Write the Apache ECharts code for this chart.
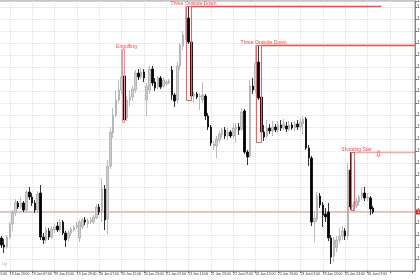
<!DOCTYPE html>
<html><head><meta charset="utf-8">
<script src="https://cdn.jsdelivr.net/npm/echarts@6/dist/echarts.min.js"></script>
<style>html,body{margin:0;padding:0;background:#fff}#c{width:420px;height:280px}</style>
</head><body><div id="c"></div>
<script>
// time labels, one every 8 hourly bars (category 0, 8, 16, ...)
const timeLabels = ["16 Jan 15:00","18 Jan 23:00","19 Jan 07:00","19 Jan 15:00","19 Jan 23:00","20 Jan 07:00","20 Jan 15:00","20 Jan 23:00","21 Jan 07:00","21 Jan 15:00","21 Jan 23:00","22 Jan 07:00","22 Jan 15:00","22 Jan 23:00","23 Jan 07:00","23 Jan 15:00","25 Jan 23:00","26 Jan 07:00"];
const totalBars = 154;   // slots on the time axis
const firstBar = 5;      // slot of the first drawn candle

const open = [1.1325,1.1318,1.1316,1.1326,1.1339,1.1350,1.1360,1.1356,1.1360,1.1353,1.1371,1.1366,1.1360,
1.1353,1.1370,1.1326,1.1323,1.1332,1.1326,1.1333,1.1337,1.1333,1.1341,
1.1330,1.1325,1.1330,1.1333,1.1336,1.1325,1.1336,1.1343,1.1339,1.1341,
1.1341,1.1345,1.1356,1.1351,1.1374,1.1344,1.1397,1.1430,1.1448,1.1463,
1.1473,1.1487,1.1445,1.1463,1.1466,1.1473,1.1490,1.1486,1.1491,1.1463,
1.1473,1.1494,1.1481,1.1476,1.1485,1.1477,1.1479,1.1480,1.1493,1.1468,
1.1463,1.1497,1.1517,1.1527,1.1545,1.1521,1.1467,1.1469,1.1466,1.1463,
1.1467,1.1447,1.1436,1.1417,1.1417,1.1423,1.1428,1.1433,1.1427,1.1431,
1.1427,1.1434,1.1436,1.1434,1.1452,1.1411,1.1407,1.1477,1.1473,1.1501,
1.1466,1.1431,1.1427,1.1435,1.1432,1.1436,1.1433,1.1438,1.1435,1.1437,
1.1434,1.1438,1.1435,1.1439,1.1436,1.1439,1.1444,1.1415,1.1405,1.1341,
1.1344,1.1367,1.1358,1.1349,1.1351,1.1325,1.1307,1.1315,1.1323,1.1327,
1.1332,1.1327,1.1393,1.1356,1.1357,1.1361,1.1366,1.1370,1.1365,1.1365,1.1355];
const close = [1.1318,1.1316,1.1326,1.1339,1.1350,1.1361,1.1356,1.1360,1.1353,1.1371,1.1366,1.1360,1.1353,
1.1369,1.1326,1.1323,1.1333,1.1326,1.1334,1.1336,1.1333,1.1341,1.1330,
1.1323,1.1330,1.1334,1.1336,1.1338,1.1341,1.1343,1.1341,1.1342,1.1343,
1.1346,1.1356,1.1351,1.1374,1.1343,1.1397,1.1431,1.1448,1.1463,1.1473,
1.1486,1.1443,1.1463,1.1466,1.1474,1.1490,1.1486,1.1491,1.1485,1.1477,
1.1494,1.1480,1.1475,1.1485,1.1476,1.1483,1.1481,1.1482,1.1468,1.1462,
1.1497,1.1518,1.1528,1.1544,1.1521,1.1467,1.1469,1.1466,1.1467,1.1468,
1.1447,1.1436,1.1420,1.1419,1.1424,1.1429,1.1433,1.1427,1.1431,1.1427,
1.1435,1.1436,1.1433,1.1451,1.1411,1.1406,1.1477,1.1473,1.1500,1.1465,
1.1431,1.1426,1.1435,1.1432,1.1436,1.1433,1.1438,1.1435,1.1439,1.1434,
1.1438,1.1435,1.1439,1.1436,1.1441,1.1444,1.1415,1.1405,1.1341,1.1345,
1.1367,1.1358,1.1348,1.1346,1.1325,1.1306,1.1323,1.1323,1.1327,1.1332,
1.1327,1.1393,1.1356,1.1358,1.1362,1.1366,1.1370,1.1365,1.1366,1.1354,1.1351];
const low = [1.1315,1.1310,1.1314,1.1324,1.1332,1.1347,1.1354,1.1354,1.1351,1.1350,1.1363,1.1357,1.1350,
1.1350,1.1323,1.1319,1.1320,1.1323,1.1324,1.1330,1.1331,1.1331,1.1328,
1.1316,1.1321,1.1327,1.1331,1.1334,1.1321,1.1334,1.1338,1.1335,1.1339,
1.1339,1.1344,1.1348,1.1341,1.1333,1.1329,1.1394,1.1425,1.1446,1.1460,
1.1469,1.1441,1.1442,1.1457,1.1462,1.1470,1.1483,1.1484,1.1481,1.1447,
1.1469,1.1477,1.1472,1.1474,1.1474,1.1475,1.1478,1.1479,1.1463,1.1456,
1.1460,1.1493,1.1513,1.1523,1.1519,1.1463,1.1460,1.1464,1.1453,1.1460,
1.1443,1.1433,1.1417,1.1413,1.1405,1.1420,1.1425,1.1424,1.1423,1.1425,
1.1424,1.1420,1.1428,1.1432,1.1409,1.1398,1.1405,1.1469,1.1470,1.1463,
1.1421,1.1422,1.1425,1.1429,1.1427,1.1431,1.1430,1.1432,1.1433,1.1431,
1.1432,1.1433,1.1432,1.1433,1.1433,1.1429,1.1413,1.1397,1.1337,1.1321,
1.1341,1.1355,1.1336,1.1341,1.1322,1.1299,1.1301,1.1311,1.1320,1.1323,
1.1323,1.1323,1.1353,1.1353,1.1355,1.1357,1.1363,1.1362,1.1362,1.1348,1.1349];
const high = [1.1327,1.1324,1.1328,1.1341,1.1353,1.1364,1.1362,1.1366,1.1362,1.1373,1.1376,1.1370,1.1363,
1.1372,1.1378,1.1330,1.1336,1.1335,1.1337,1.1339,1.1341,1.1344,1.1343,
1.1332,1.1333,1.1336,1.1338,1.1341,1.1343,1.1345,1.1346,1.1345,1.1346,
1.1348,1.1359,1.1359,1.1385,1.1378,1.1403,1.1436,1.1455,1.1473,1.1483,
1.1514,1.1489,1.1467,1.1473,1.1477,1.1493,1.1494,1.1495,1.1494,1.1480,
1.1497,1.1497,1.1485,1.1487,1.1487,1.1486,1.1483,1.1484,1.1497,1.1470,
1.1501,1.1520,1.1532,1.1557,1.1557,1.1523,1.1471,1.1471,1.1470,1.1481,
1.1469,1.1450,1.1438,1.1422,1.1427,1.1432,1.1435,1.1436,1.1435,1.1433,
1.1439,1.1440,1.1440,1.1455,1.1454,1.1413,1.1483,1.1485,1.1518,1.1517,
1.1468,1.1438,1.1443,1.1439,1.1442,1.1439,1.1442,1.1443,1.1444,1.1441,
1.1442,1.1441,1.1442,1.1443,1.1445,1.1447,1.1446,1.1418,1.1407,1.1351,
1.1371,1.1370,1.1361,1.1355,1.1360,1.1328,1.1326,1.1327,1.1335,1.1337,
1.1335,1.1400,1.1411,1.1362,1.1365,1.1368,1.1375,1.1376,1.1370,1.1367,1.1357];

// candlestick pattern annotations (slot indices and prices)
const patternNames = ["Engulfing","Three Outside Down","Three Outside Down","Shooting Star"];
const patternStart = [48, 71, 96, 130];
const patternEnd   = [49, 73, 98, 131];
const patternHigh  = [1.1514, 1.1557, 1.1518, 1.1411];
const patternLow   = [1.1441, 1.1463, 1.1421, 1.1353];
const patternLineEnd = [49, 141, 153, 153];
const patternDashed  = [false, false, false, true];
const arrowSlot = [140];
const arrowPrice = [1.1408];
const bidPrice = 1.1351;
const bidSlots = [0, 153];

const yMin = 1.1292, yMax = 1.1562, yStep = 0.0012;

const categories = Array.from({length: totalBars}, (_, i) => String(i));
const candleData = categories.map((_, i) => {
  const j = i - firstBar;
  if (j < 0 || j >= open.length) return '-';
  return [open[j], close[j], low[j], high[j]];
});
const patternData = patternStart.map((s, i) => [s, patternEnd[i], patternHigh[i], patternLow[i], patternLineEnd[i]]);

const red = '#ff4646';
const chart = echarts.init(document.getElementById('c'), null, {renderer: 'canvas'});
chart.setOption({
  animation: false,
  backgroundColor: '#ffffff',
  grid: {left: -12.6, right: 5, top: 1, bottom: 9, containLabel: false, outerBoundsMode: 'none',
         show: true, borderColor: '#8c8c8c', borderWidth: 1},
  xAxis: {
    type: 'category', data: categories, boundaryGap: false,
    axisLine: {show: true, lineStyle: {color: '#8c8c8c', width: 1}},
    axisTick: {show: true, interval: 7, length: 2, lineStyle: {color: '#666'}},
    axisLabel: {show: true, interval: 7, align: 'left', margin: 1.5, fontSize: 3.4,
      fontFamily: 'Liberation Sans', color: '#333',
      formatter: (v, idx) => timeLabels[idx / 8] || ''},
    splitLine: {show: true, interval: 7, lineStyle: {color: '#dcdcdc', type: [1, 1], width: 1}}
  },
  yAxis: {
    type: 'value', position: 'right', min: yMin, max: yMax, interval: yStep, scale: true,
    axisLine: {show: true, lineStyle: {color: '#8c8c8c'}},
    axisTick: {show: true, length: 2, lineStyle: {color: '#666'}},
    axisLabel: {show: true, margin: 2, fontSize: 4.5, fontFamily: 'Liberation Sans', color: '#333',
      showMinLabel: false, formatter: v => v.toFixed(4)},
    splitLine: {show: true, lineStyle: {color: '#dcdcdc', type: [1, 1], width: 1}}
  },
  graphic: [{type: 'text', left: 2, top: 262, style: {text: 'Up', fill: '#7ccf7c', font: '4px "Liberation Sans"'}}],
  series: [
    {
      type: 'line', data: bidSlots.map(s => [s, bidPrice]), symbol: 'none', silent: true, z: 1,
      lineStyle: {color: '#e58a8a', width: 1},
      endLabel: {show: true, distance: 1, formatter: p => p.value[1].toFixed(4),
        color: '#fff', backgroundColor: '#dd2222', fontSize: 4, padding: [0.5, 1]}
    },
    {
      type: 'candlestick', data: candleData, barWidth: 2, z: 3,
      itemStyle: {color: '#cfcfcf', color0: '#000000', borderColor: '#ababab', borderColor0: '#000000', borderWidth: 0.8}
    },
    {
      type: 'custom', data: patternData, clip: true, silent: true, z: 4,
      encode: {x: [0, 1, 4], y: [2, 3]},
      renderItem: (params, api) => {
        const i = params.dataIndex;
        const s = api.value(0), e = api.value(1), hi = api.value(2), lo = api.value(3), le = api.value(4);
        const tl = api.coord([s, hi]), br = api.coord([e, lo]);
        const x0 = Math.round(tl[0]) + 0.5, x1 = Math.round(br[0]) + 0.5;
        const y0 = Math.round(tl[1]) + 0.5, y1 = Math.round(br[1]) + 0.5;
        const kids = [
          {type: 'rect', shape: {x: x0, y: y0, width: x1 - x0, height: y1 - y0},
           style: {fill: null, stroke: i === 0 ? '#ff8c8c' : '#ff5a5a', lineWidth: 1}},
          {type: 'text', style: {text: patternNames[i], x: x1 + 2, y: y0 - 0.5, fill: red,
            font: '5px "Liberation Sans"', align: 'center', verticalAlign: 'bottom'}}
        ];
        if (le > e) {
          const p = api.coord([le, hi]);
          kids.push({type: 'line', shape: {x1: x1, y1: y0, x2: p[0], y2: y0},
            style: {stroke: red, lineWidth: 1.4, lineDash: patternDashed[i] ? [1, 1] : null}});
        }
        return {type: 'group', children: kids};
      }
    },
    {
      type: 'custom', data: arrowSlot.map((s, i) => [s, arrowPrice[i]]), silent: true, z: 4,
      encode: {x: 0, y: 1},
      renderItem: (params, api) => {
        const p = api.coord([api.value(0), api.value(1)]);
        return {type: 'text', style: {text: '\u21E9', x: p[0], y: p[1], fill: red,
          font: '9px "DejaVu Sans"', align: 'center', verticalAlign: 'middle'}};
      }
    }
  ]
});
</script>
</body></html>
